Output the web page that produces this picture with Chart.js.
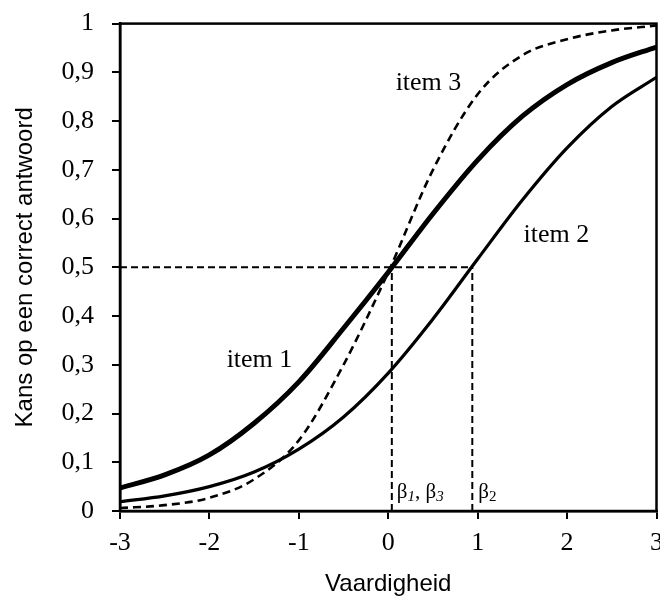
<!DOCTYPE html>
<html>
<head>
<meta charset="utf-8">
<script src="https://cdn.jsdelivr.net/npm/chart.js@4.4.1/dist/chart.umd.min.js"></script>
<style>
    html, body { margin: 0; padding: 0; background: #fff; overflow: hidden; }
    #wrap { width: 672px; height: 609px; margin-top: -10px; }
</style>
</head>
<body>
<div id="wrap"><canvas id="iccChart"></canvas></div>
<script>
const thetas = [-3, -2.5, -2, -1.5, -1, -0.5, 0, 0.5, 1, 1.5, 2, 2.5, 3];
const item1 = [0.047, 0.074, 0.115, 0.18, 0.265, 0.375, 0.49, 0.61, 0.72, 0.81, 0.875, 0.92, 0.952];
const item2 = [0.019, 0.031, 0.05, 0.08, 0.127, 0.193, 0.283, 0.394, 0.517, 0.638, 0.745, 0.83, 0.89];
const item3 = [0.006, 0.012, 0.027, 0.065, 0.145, 0.30, 0.49, 0.70, 0.855, 0.935, 0.968, 0.986, 0.996];

// difficulty markers
const beta13 = 0.04;
const beta2 = 0.94;

const itemLabels = [
    { text: "item 1", x: -1.44, y: 0.309 },
    { text: "item 2", x: 1.88, y: 0.566 },
    { text: "item 3", x: 0.45, y: 0.877 }
];

function toPoints(xs, ys) {
    return xs.map((x, i) => ({ x: x, y: ys[i] }));
}

function fmtComma(v) {
    if (v === 0 || v === 1) return String(v);
    return v.toFixed(1).replace(".", ",");
}

const frame = {
    id: "frame",
    afterDraw(chart) {
        const { ctx, chartArea: a, scales } = chart;
        ctx.save();
        ctx.strokeStyle = "#000";
        ctx.lineWidth = 2.5;
        ctx.strokeRect(a.left, a.top, a.right - a.left, a.bottom - a.top);

        ctx.fillStyle = "#000";
        ctx.font = "26px 'Liberation Serif'";
        ctx.textAlign = "center";
        ctx.textBaseline = "middle";
        itemLabels.forEach(l => {
            ctx.fillText(l.text, scales.x.getPixelForValue(l.x), scales.y.getPixelForValue(l.y));
        });

        // beta labels next to the vertical lines
        const base = scales.y.getPixelForValue(0) - 13;
        function beta(x, sub, italic) {
            ctx.font = "21px 'Liberation Serif'";
            ctx.textAlign = "left";
            ctx.textBaseline = "alphabetic";
            ctx.fillText("\u03b2", x, base);
            const w = ctx.measureText("\u03b2").width;
            ctx.font = (italic ? "italic " : "") + "15px 'Liberation Serif'";
            ctx.fillText(sub, x + w, base + 3);
            return x + w + ctx.measureText(sub).width;
        }
        let x = scales.x.getPixelForValue(beta13) + 5;
        x = beta(x, "1", true);
        ctx.font = "21px 'Liberation Serif'";
        ctx.fillText(",", x, base);
        x += ctx.measureText(", ").width;
        beta(x, "3", true);
        beta(scales.x.getPixelForValue(beta2) + 6, "2", false);
        ctx.restore();
    }
};

const lineDefaults = { showLine: true, pointRadius: 0, borderColor: "#000", fill: false };

new Chart(document.getElementById("iccChart"), {
    type: "scatter",
    data: {
        datasets: [
            { ...lineDefaults, label: "item 1", data: toPoints(thetas, item1), borderWidth: 5, cubicInterpolationMode: "monotone" },
            { ...lineDefaults, label: "item 2", data: toPoints(thetas, item2), borderWidth: 3.2, cubicInterpolationMode: "monotone" },
            { ...lineDefaults, label: "item 3", data: toPoints(thetas, item3), borderWidth: 2.6, borderDash: [8, 5], cubicInterpolationMode: "monotone" },
            { ...lineDefaults, label: "p=0.5", data: [{ x: -3, y: 0.5 }, { x: beta2, y: 0.5 }], borderWidth: 2, borderDash: [7, 4] },
            { ...lineDefaults, label: "b1", data: [{ x: beta13, y: 0 }, { x: beta13, y: 0.5 }], borderWidth: 2, borderDash: [7, 4] },
            { ...lineDefaults, label: "b2", data: [{ x: beta2, y: 0 }, { x: beta2, y: 0.5 }], borderWidth: 2, borderDash: [7, 4] }
        ]
    },
    options: {
        responsive: true,
        maintainAspectRatio: false,
        animation: false,
        layout: { padding: { top: 0, right: 14, left: 0, bottom: 0 } },
        plugins: { legend: { display: false }, tooltip: { enabled: false } },
        scales: {
            x: {
                type: "linear",
                min: -3,
                max: 3,
                afterFit: s => { s.height = 88; },
                border: { display: true, color: "#000", width: 2.5 },
                grid: { display: true, drawOnChartArea: false, drawTicks: true, tickLength: 8, color: "#000", lineWidth: 2 },
                ticks: { stepSize: 1, color: "#000", padding: 9, font: { family: "'Liberation Serif'", size: 26 } },
                title: {
                    display: true,
                    text: "Vaardigheid",
                    color: "#000",
                    padding: { top: 4, bottom: 0 },
                    font: { family: "'Liberation Sans'", size: 24 }
                }
            },
            y: {
                min: 0,
                max: 1,
                afterFit: s => { s.width = 120; },
                border: { display: true, color: "#000", width: 2.5 },
                grid: { display: true, drawOnChartArea: false, drawTicks: true, tickLength: 8, color: "#000", lineWidth: 2 },
                ticks: { stepSize: 0.1, color: "#000", padding: 18, callback: v => fmtComma(v), font: { family: "'Liberation Serif'", size: 26 } },
                title: {
                    display: true,
                    text: "Kans op een correct antwoord",
                    color: "#000",
                    padding: { top: 11, bottom: 0 },
                    font: { family: "'Liberation Sans'", size: 24 }
                }
            }
        }
    },
    plugins: [frame]
});
</script>
</body>
</html>
